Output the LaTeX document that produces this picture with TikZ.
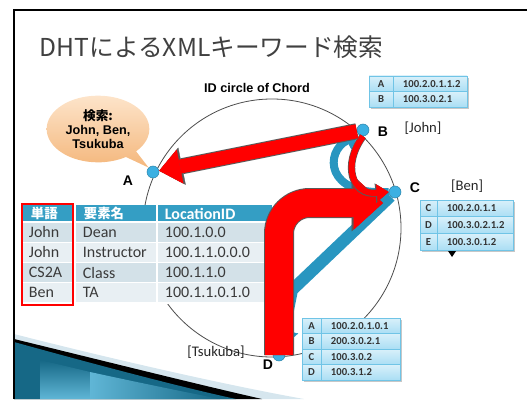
\documentclass[tikz,border=0pt]{standalone}
\usepackage{fontspec}
\setmainfont{Carlito}
\newfontfamily\jpfont{Noto Sans CJK JP}
\newfontfamily\arialfont{Liberation Sans}
\usetikzlibrary{arrows.meta,shapes.callouts,calc}

\definecolor{dotblue}{RGB}{60,176,226}
\definecolor{bandteal}{RGB}{40,150,192}
\definecolor{headteal}{RGB}{52,158,196}
\definecolor{rowdark}{RGB}{211,225,232}
\definecolor{rowlight}{RGB}{232,239,243}
\definecolor{cellblue}{RGB}{170,222,244}
\definecolor{celledge}{RGB}{112,196,230}
\definecolor{peachlight}{RGB}{253,228,202}
\definecolor{peachdark}{RGB}{244,183,124}
\definecolor{titlegray}{RGB}{64,64,64}
\definecolor{textgray}{RGB}{58,58,58}
\definecolor{tealdark}{RGB}{22,104,134}
\definecolor{teallight}{RGB}{96,182,214}
\definecolor{swooshlight}{RGB}{214,230,238}
\definecolor{edgegray}{RGB}{90,90,90}

\tikzset{every picture/.style={line width=0.75pt}}
\tikzset{
  chorddot/.style={circle,fill=dotblue,draw=dotblue!75!black,line width=0.4pt,minimum size=9pt,inner sep=0pt},
  ptlabel/.style={font=\arialfont\bfseries\fontsize{10.5}{12}\selectfont},
  keylabel/.style={font=\fontsize{11}{13}\selectfont,text=black!85},
  cellfont/.style={font=\fontsize{12}{14}\selectfont,text=textgray,anchor=west},
  smallcell/.style={top color=cellblue!45!white,bottom color=cellblue,draw=celledge,line width=0.5pt},
  smallfont/.style={font=\bfseries\fontsize{8}{9}\selectfont,text=black!80},
  redarrow/.style={draw=red,line width=10.5pt,-{Triangle[width=26pt,length=16pt,line width=0.3pt]},
    preaction={draw=edgegray,line width=12pt,-{Triangle[width=28.5pt,length=17.5pt,line width=0.3pt]}}},
  bigred/.style={draw=red,line width=21pt,rounded corners=23pt,-{Triangle[width=40pt,length=22pt,line width=0.3pt]},
    preaction={draw=edgegray,line width=22.5pt,-{Triangle[width=42.5pt,length=23.5pt,line width=0.3pt]}}},
  redcurve/.style={draw=red,line width=4.5pt,-{Triangle[width=13pt,length=9pt,line width=0.3pt]},
    preaction={draw=edgegray,line width=5.5pt,-{Triangle[width=14.5pt,length=10pt,line width=0.3pt]}}},
  tealband/.style={draw=bandteal,line width=9pt,-{Triangle[width=22pt,length=14pt,line width=0.3pt]}},
  tealcurve/.style={draw=bandteal,line width=6pt,-{Triangle[width=15pt,length=10pt,line width=0.3pt]}},
}

\begin{document}
\begin{tikzpicture}[x=0.75pt,y=0.75pt,yscale=-1,xscale=1]
\path[use as bounding box] (0,0) rectangle (527,399);

%Shape: bottom swoosh
\fill[swooshlight] (14,334) .. controls (100,356) and (220,384) .. (304,399) -- (14,399) -- cycle ;
\fill[black] (14,339) .. controls (100,360) and (200,385) .. (262,399) -- (14,399) -- cycle ;
\fill[tealdark] (14,342) .. controls (90,363) and (180,387) .. (236,399) -- (14,399) -- cycle ;
\shade[left color=tealdark,right color=teallight,shading angle=0] (40,360) -- (90,372) -- (90,399) -- (40,399) -- cycle ;
\shade[left color=teallight,right color=tealdark] (90,372) .. controls (150,385) and (190,393) .. (220,399) -- (90,399) -- cycle ;
%Shape: slide frame
\draw[line width=1.6pt] (14,399) -- (14,10) -- (527,10) ;

% Title
\node[anchor=west,text=titlegray,font=\jpfont\fontsize{18.5}{22}\selectfont] (title) at (35,47) {DHTによるXMLキーワード検索};

%Shape: ID circle
\draw[black!70,line width=0.6pt] (272,228) circle (129) ;
\node[font=\arialfont\bfseries\fontsize{9.5}{11}\selectfont] (idlabel) at (257,88) {ID circle of Chord};

% Table at B
\fill[black!22] (371,78) rectangle (469,109) ;
\foreach \k/\v [count=\i] in {A/100.2.0.1.1.2, B/100.3.0.2.1} {
  \pgfmathsetmacro\ytop{76+(\i-1)*15.5}
  \draw[smallcell] (369,\ytop) rectangle (393,\ytop+15.5) ;
  \draw[smallcell] (393,\ytop) rectangle (467,\ytop+15.5) ;
  \node[smallfont] (bkey\i) at (381,\ytop+7.75) {\k};
  \node[smallfont,anchor=west] (bval\i) at (398,\ytop+7.75) {\v};
}

% Table at C
\fill[black!22] (422,202) rectangle (515,252) ;
\foreach \k/\v [count=\i] in {C/100.2.0.1.1, D/100.3.0.2.1.2, E/100.3.0.1.2} {
  \pgfmathsetmacro\ytop{200+(\i-1)*16.7}
  \draw[smallcell] (420,\ytop) rectangle (437,\ytop+16.7) ;
  \draw[smallcell] (437,\ytop) rectangle (513,\ytop+16.7) ;
  \node[smallfont] (ckey\i) at (428.5,\ytop+8.35) {\k};
  \node[smallfont,anchor=west] (cval\i) at (442,\ytop+8.35) {\v};
}
\fill (448,251) -- (456,251) -- (452,257) -- cycle ;

% Table at D
\fill[black!22] (304,320) rectangle (402,382) ;
\foreach \k/\v [count=\i] in {A/100.2.0.1.0.1, B/200.3.0.2.1, C/100.3.0.2, D/100.3.1.2} {
  \pgfmathsetmacro\ytop{318+(\i-1)*15.5}
  \draw[smallcell] (302,\ytop) rectangle (321,\ytop+15.5) ;
  \draw[smallcell] (321,\ytop) rectangle (400,\ytop+15.5) ;
  \node[smallfont] (dkey\i) at (311.5,\ytop+7.75) {\k};
  \node[smallfont,anchor=west] (dval\i) at (326,\ytop+7.75) {\v};
}

% Word table
\fill[headteal] (22,205) rectangle (272,222) ;
\draw[white,line width=1pt] (75,205) -- (75,222) (157,205) -- (157,222) ;
\node[anchor=west,text=white,font=\jpfont\bfseries\fontsize{10}{12}\selectfont] (hword) at (26,213.5) {単語};
\node[anchor=west,text=white,font=\jpfont\bfseries\fontsize{10}{12}\selectfont] (helem) at (79,213.5) {要素名};
\node[anchor=west,text=white,font=\bfseries\fontsize{12}{14}\selectfont] (hloc) at (160,213.5) {LocationID};
\foreach \w/\e/\l/\c [count=\i] in {John/Dean/100.1.0.0/rowdark, John/Instructor/100.1.1.0.0.0/rowlight, CS2A/Class/100.1.1.0/rowdark, Ben/TA/100.1.1.0.1.0/rowlight} {
  \pgfmathsetmacro\ytop{222+(\i-1)*20.25}
  \filldraw[fill=\c,draw=white,line width=0.8pt] (22,\ytop) rectangle (75,\ytop+20.25) ;
  \filldraw[fill=\c,draw=white,line width=0.8pt] (75,\ytop) rectangle (157,\ytop+20.25) ;
  \filldraw[fill=\c,draw=white,line width=0.8pt] (157,\ytop) rectangle (272,\ytop+20.25) ;
  \node[cellfont] (word\i) at (24,\ytop+10.1) {\w};
  \node[cellfont] (elem\i) at (78,\ytop+10.1) {\e};
  \node[cellfont] (loc\i) at (160,\ytop+10.1) {\l};
}
%Shape: word column frame
\draw[red,line width=1.6pt] (22,204) rectangle (73,305) ;

% Chord nodes
\node[chorddot] (nA) at (153,172) {};
\node[chorddot] (nB) at (363,130) {};
\node[chorddot] (nC) at (395,192) {};
\node[chorddot] (nD) at (279,355) {};
\node[ptlabel] (lA) at (128,181) {A};
\node[ptlabel] (lB) at (383,132) {B};
\node[ptlabel] (lC) at (415,188) {C};
\node[ptlabel] (lD) at (268,365) {D};
\node[keylabel] (kB) at (423,128) {[John]};
\node[keylabel] (kC) at (467,186) {[Ben]};
\node[keylabel] (kD) at (216,352) {[Tsukuba]};

% Search bubble
\node[ellipse callout,callout absolute pointer={(nA.north west)},top color=peachlight,bottom color=peachdark,
  minimum width=77pt,minimum height=50pt,inner sep=0pt,align=center,
  font=\arialfont\bfseries\fontsize{9.5}{10.5}\selectfont] (query) at (98,129)
  {{\jpfont\bfseries 検索:}\\John, Ben,\\Tsukuba};

% Routing arrows
\coordinate (tbend) at (292,290);
\coordinate (ctip) at (383,203);
\draw[tealband] (nC) -- (tbend) -- (nD) ;
\draw[tealcurve] (nC.west) .. controls (325,196) and (325,152) .. (nB.south west) ;
\draw[bigred] (nD.center) |- (ctip) ;
\draw[redcurve] (nB.south) .. controls (342,165) and (352,195) .. (nC.west) ;
\draw[redarrow] (nB) -- (nA) ;

\end{tikzpicture}
\end{document}
